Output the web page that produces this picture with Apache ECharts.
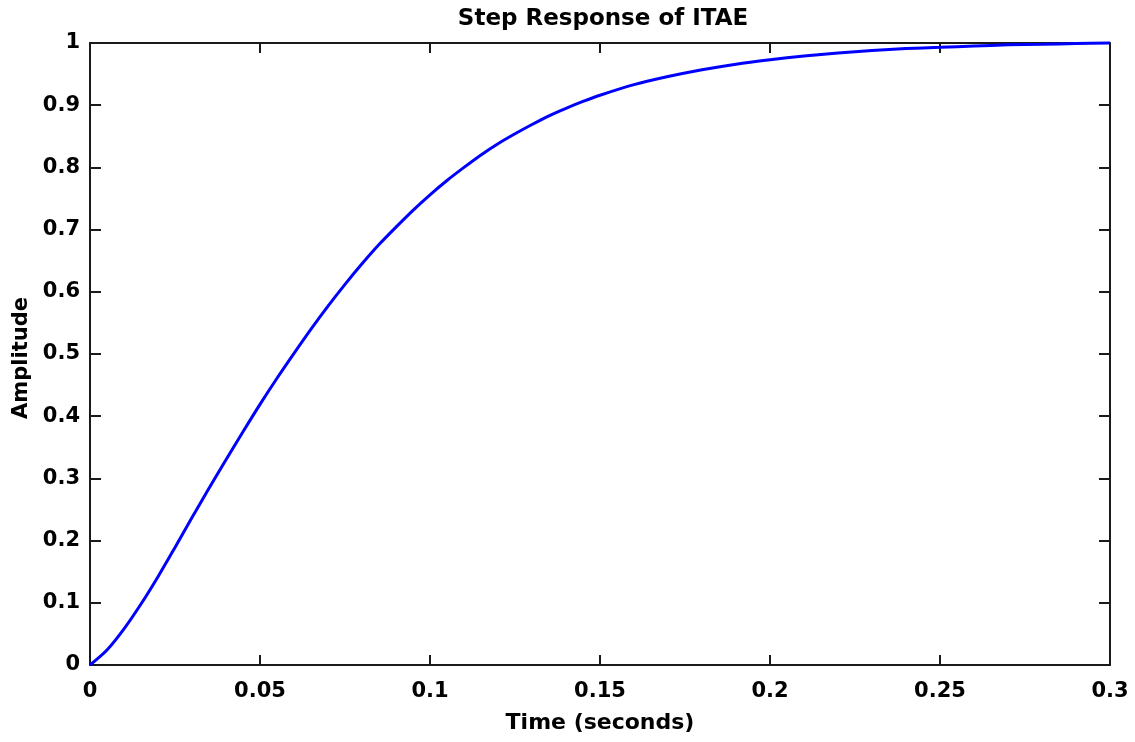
<!DOCTYPE html>
<html>
<head>
<meta charset="utf-8">
<script src="https://cdn.jsdelivr.net/npm/echarts@6/dist/echarts.min.js"></script>
<style>
  html, body { margin: 0; padding: 0; background: #fff; }
  #chart { width: 1135px; height: 742px; }
</style>
</head>
<body>
<div id="chart"></div>
<script>
// Step response samples: time (s) and amplitude
const timeValues = [0, 0.005, 0.01, 0.015, 0.02, 0.025, 0.03, 0.035, 0.04, 0.045,
  0.05, 0.055, 0.06, 0.065, 0.07, 0.075, 0.08, 0.085, 0.09, 0.095,
  0.1, 0.105, 0.11, 0.115, 0.12, 0.125, 0.13, 0.135, 0.14, 0.145,
  0.15, 0.16, 0.17, 0.18, 0.19, 0.2, 0.21, 0.22, 0.23, 0.24,
  0.25, 0.26, 0.27, 0.28, 0.29, 0.3];
const amplitudeValues = [0, 0.024, 0.058, 0.098, 0.142, 0.189, 0.237, 0.284, 0.330, 0.375,
  0.419, 0.461, 0.501, 0.540, 0.577, 0.612, 0.645, 0.676, 0.704, 0.731,
  0.756, 0.779, 0.800, 0.820, 0.838, 0.854, 0.869, 0.883, 0.895, 0.906,
  0.916, 0.933, 0.946, 0.957, 0.966, 0.973, 0.979, 0.984, 0.988, 0.991,
  0.993, 0.995, 0.997, 0.998, 0.999, 1.0];
const xTicks = { min: 0, max: 0.3, step: 0.05 };
const yTicks = { min: 0, max: 1, step: 0.1 };

const titleText = 'Step Response of ITAE';
const xName = 'Time (seconds)';
const yName = 'Amplitude';

const FONT = 'DejaVu Sans';
const axisColor = '#1a1a1a';

const chart = echarts.init(document.getElementById('chart'), null, { renderer: 'canvas' });

function xAxisCfg(pos, showLabel) {
  return {
    type: 'value', position: pos,
    min: xTicks.min, max: xTicks.max, interval: xTicks.step,
    axisLine: { show: true, onZero: false, lineStyle: { color: axisColor, width: 2 } },
    axisTick: { show: true, inside: true, length: 10, lineStyle: { color: axisColor, width: 2 } },
    axisLabel: { show: showLabel, color: '#000', fontFamily: FONT, fontWeight: 'bold', fontSize: 21, margin: 16 },
    splitLine: { show: false },
    name: showLabel ? xName : '',
    nameLocation: 'middle', nameGap: 47,
    nameTextStyle: { color: '#000', fontFamily: FONT, fontWeight: 'bold', fontSize: 22 }
  };
}
function yAxisCfg(pos, showLabel) {
  return {
    type: 'value', position: pos,
    min: yTicks.min, max: yTicks.max, interval: yTicks.step,
    axisLine: { show: true, onZero: false, lineStyle: { color: axisColor, width: 2 } },
    axisTick: { show: true, inside: true, length: 11, lineStyle: { color: axisColor, width: 2 } },
    axisLabel: { show: showLabel, color: '#000', fontFamily: FONT, fontWeight: 'bold', fontSize: 21, margin: 10 },
    splitLine: { show: false },
    name: showLabel ? yName : '',
    nameLocation: 'middle', nameGap: 56, nameRotate: 90,
    nameTextStyle: { color: '#000', fontFamily: FONT, fontWeight: 'bold', fontSize: 21, padding: [0, 8, 0, 0] }
  };
}

chart.setOption({
  animation: false,
  backgroundColor: '#fff',
  title: {
    text: titleText, left: 598, top: 3, textAlign: 'center',
    textStyle: { color: '#000', fontFamily: FONT, fontWeight: 'bold', fontSize: 23 }
  },
  grid: { left: 90, right: 25, top: 43, bottom: 77, containLabel: false },
  xAxis: [xAxisCfg('bottom', true), xAxisCfg('top', false)],
  yAxis: [yAxisCfg('left', true), yAxisCfg('right', false)],
  series: [{
    type: 'line',
    xAxisIndex: 0, yAxisIndex: 0,
    data: timeValues.map((t, i) => [t, amplitudeValues[i]]),
    showSymbol: false,
    smooth: 0.3,
    lineStyle: { color: '#0000ff', width: 3 },
    clip: false
  }]
});
</script>
</body>
</html>
